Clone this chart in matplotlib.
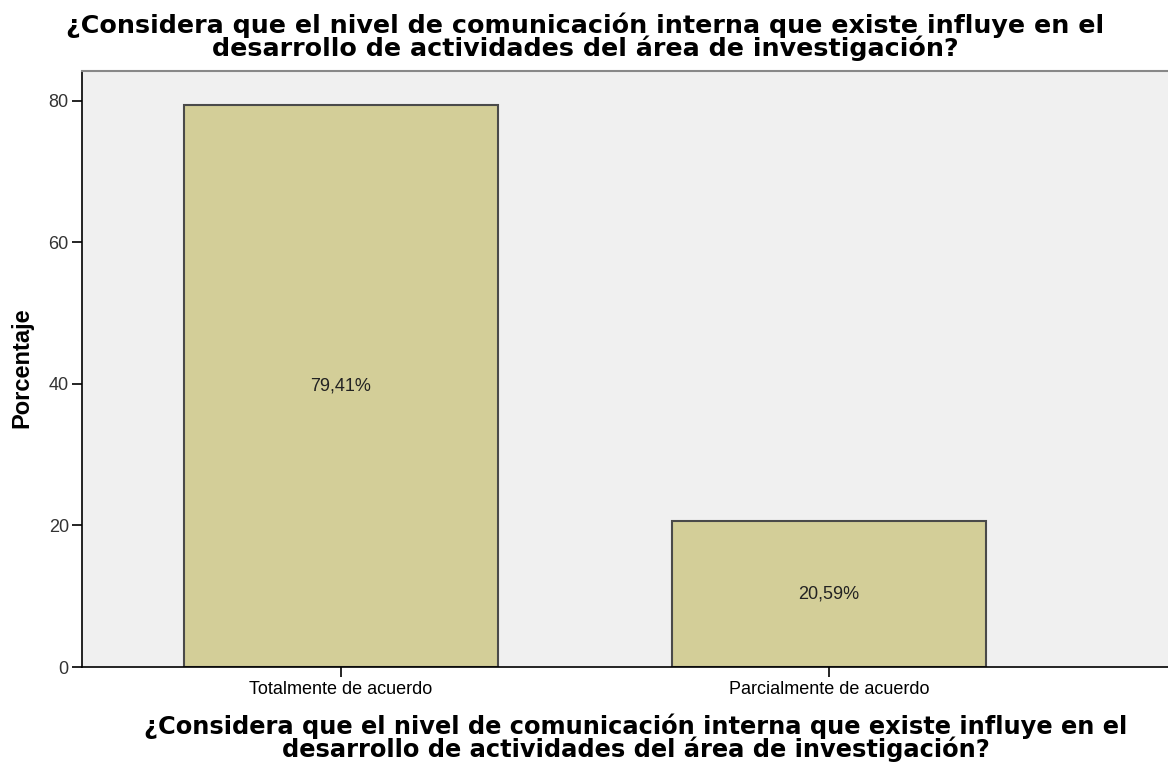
import matplotlib.pyplot as plt

categories = ['Totalmente de acuerdo', 'Parcialmente de acuerdo']
percentages = [79.41, 20.59]
value_labels = ['79,41%', '20,59%']

question = ('¿Considera que el nivel de comunicación interna que existe influye en el\n'
            'desarrollo de actividades del área de investigación?')

W, H = 1168, 762


def main():
    fig = plt.figure(figsize=(W / 100, H / 100), dpi=100)
    # plot area runs off the right edge, as in the cropped original
    ax = fig.add_axes([82 / W, 1 - 667 / H, (W - 82) / W, (667 - 71) / H])
    ax.set_facecolor('#f0f0f0')

    x = list(range(len(categories)))
    ax.bar(x, percentages, width=0.645, color='#d3ce98', edgecolor='#4a4a4a', linewidth=1.5)

    for xi, v, lab in zip(x, percentages, value_labels):
        ax.text(xi, v / 2, lab, ha='center', va='center', fontsize=13,
                family='Liberation Sans', color='#222222')

    ax.set_xlim(-0.531, 1.695)
    ax.set_ylim(0, 84.2)
    ax.set_yticks([0, 20, 40, 60, 80])
    ax.set_xticks(x)
    ax.set_xticklabels(categories, family='Liberation Sans', fontsize=13)
    for t in ax.get_yticklabels():
        t.set_family('Liberation Sans')
        t.set_fontsize(13)
        t.set_color('#333333')

    ax.tick_params(axis='y', direction='out', length=7.5, width=1.2, pad=2)
    ax.tick_params(axis='x', direction='out', length=7, width=1.2, pad=3)

    ax.spines['right'].set_visible(False)
    ax.spines['top'].set_color('#888888')
    ax.spines['top'].set_linewidth(1.5)
    ax.spines['left'].set_linewidth(1.2)
    ax.spines['bottom'].set_linewidth(1.2)

    fig.text(22 / W, 1 - 368 / H, 'Porcentaje', rotation=90, ha='center', va='center',
             family='Liberation Sans', fontweight='bold', fontsize=17)

    fig.text(585 / W, 1 - 37 / H, question, ha='center', va='center', fontsize=18.3,
             fontweight='bold', linespacing=0.9)
    fig.text(636 / W, 1 - 738 / H, question, ha='center', va='center', fontsize=17.4,
             fontweight='bold', linespacing=0.86)

    plt.savefig('out.png', dpi=100)


if __name__ == '__main__':
    main()
